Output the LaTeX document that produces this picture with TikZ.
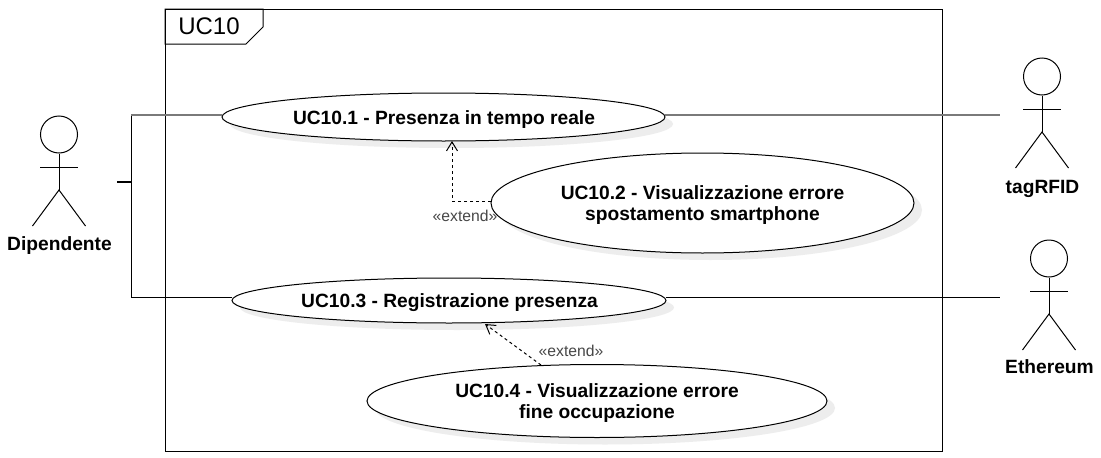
\documentclass[tikz,border=0pt]{standalone}
\usepackage{fontspec}
\setmainfont{Liberation Sans}
\usetikzlibrary{shapes.geometric,arrows.meta,shadows}
\tikzset{
  usecase/.style={ellipse,draw=black,fill=white,line width=1pt,inner sep=0pt,align=center,
    general shadow={shadow xshift=8pt,shadow yshift=-7pt,fill=black!7}},
  uctext/.style={font=\fontsize{19.2}{21}\selectfont\bfseries,inner sep=0pt,align=center},
  actorline/.style={draw=black,line width=1pt},
  actorname/.style={font=\fontsize{19.2}{21}\selectfont\bfseries,inner sep=0pt,anchor=base},
  assoc/.style={draw=black,line width=1pt},
  assocgray/.style={draw=black!52,line width=2pt},
  stubline/.style={draw=black,line width=1.7pt},
  extendarrow/.style={draw=black,line width=1pt,dash pattern=on 3pt off 3pt,
    -{Straight Barb[length=9pt,width=11pt]}},
  extendlabel/.style={font=\fontsize{15.7}{17}\selectfont,text=black!72,inner sep=0pt},
  framebox/.style={draw=black,line width=1pt}
}
\begin{document}
\begin{tikzpicture}[x=1pt,y=-1pt]
\useasboundingbox (0,0) rectangle (1101,458);
\fill[white] (0,0) rectangle (1101,458);
% frame
\node[inner sep=0pt] (title) at (209,26) {\fontsize{24}{28}\selectfont UC10};
\draw[framebox] (165,9) rectangle (942,451);
\draw[framebox] (165,9) -- (263,9) -- (263,27) -- (246,44) -- (165,44) -- cycle;
% use cases
\node[usecase,minimum width=443pt,minimum height=48pt] (uc1) at (443.5,117) {};
\node[uctext] (uc1t) at (444,119.5) {UC10.1 - Presenza in tempo reale};
\node[usecase,minimum width=423pt,minimum height=100pt] (uc2) at (702.5,203) {};
\node[uctext] (uc2t) at (702.5,205.5) {UC10.2 - Visualizzazione errore\\spostamento smartphone};
\node[usecase,minimum width=434pt,minimum height=45pt] (uc3) at (449,300.5) {};
\node[uctext] (uc3t) at (449.5,303) {UC10.3 - Registrazione presenza};
\node[usecase,minimum width=460pt,minimum height=73pt] (uc4) at (597,401) {};
\node[uctext] (uc4t) at (597,403.5) {UC10.4 - Visualizzazione errore\\fine occupazione};
% actors
\newcommand{\actorfig}[5]{% name, cx, topy, label, label baseline
  \node[circle,draw=black,line width=1pt,minimum size=37pt,inner sep=0pt] (#1head) at (#2,#3+18.5) {};
  \coordinate (#1hip) at (#2,#3+74);
  \draw[actorline] (#1head.south) -- (#1hip);
  \draw[actorline] (#2-19,#3+51) -- (#2+19,#3+51);
  \draw[actorline] (#2-26.5,#3+110) -- (#1hip) -- (#2+26.5,#3+110);
  \node[actorname] (#1name) at (#2+0.5,#5) {#4};
}
\actorfig{dip}{59}{116}{Dipendente}{250}
\actorfig{tag}{1042}{58}{tagRFID}{193}
\actorfig{eth}{1049}{240}{Ethereum}{373}
% associations
\coordinate (stub) at (117,182);
\coordinate (junction) at (131,182);
\coordinate (upper) at (131,115);
\coordinate (lower) at (131,297);
\coordinate (uc1in) at (222,115);
\coordinate (uc3in) at (232,297);
\coordinate (uc1out) at (665,115);
\coordinate (uc3out) at (666,297);
\coordinate (tagend) at (1000,115);
\coordinate (ethend) at (1000,297);
\draw[stubline] (stub) -- (junction);
\draw[assoc] (upper) -- (lower) -- (uc3in);
\draw[assocgray] (upper) -- (uc1in);
\draw[assocgray] (uc1out) -- (tagend);
\draw[assoc] (uc3out) -- (ethend);
% extends
\coordinate (ext1start) at (491,201);
\coordinate (ext1bend) at (452,201);
\coordinate (ext1end) at (452,141);
\coordinate (ext2start) at (541,365);
\coordinate (ext2end) at (485,324);
\draw[extendarrow] (ext1start) -- (ext1bend) -- (ext1end);
\draw[extendarrow] (ext2start) -- (ext2end);
\node[extendlabel] (lab1) at (465,216) {«extend»};
\node[extendlabel] (lab2) at (571,351) {«extend»};
\end{tikzpicture}
\end{document}
